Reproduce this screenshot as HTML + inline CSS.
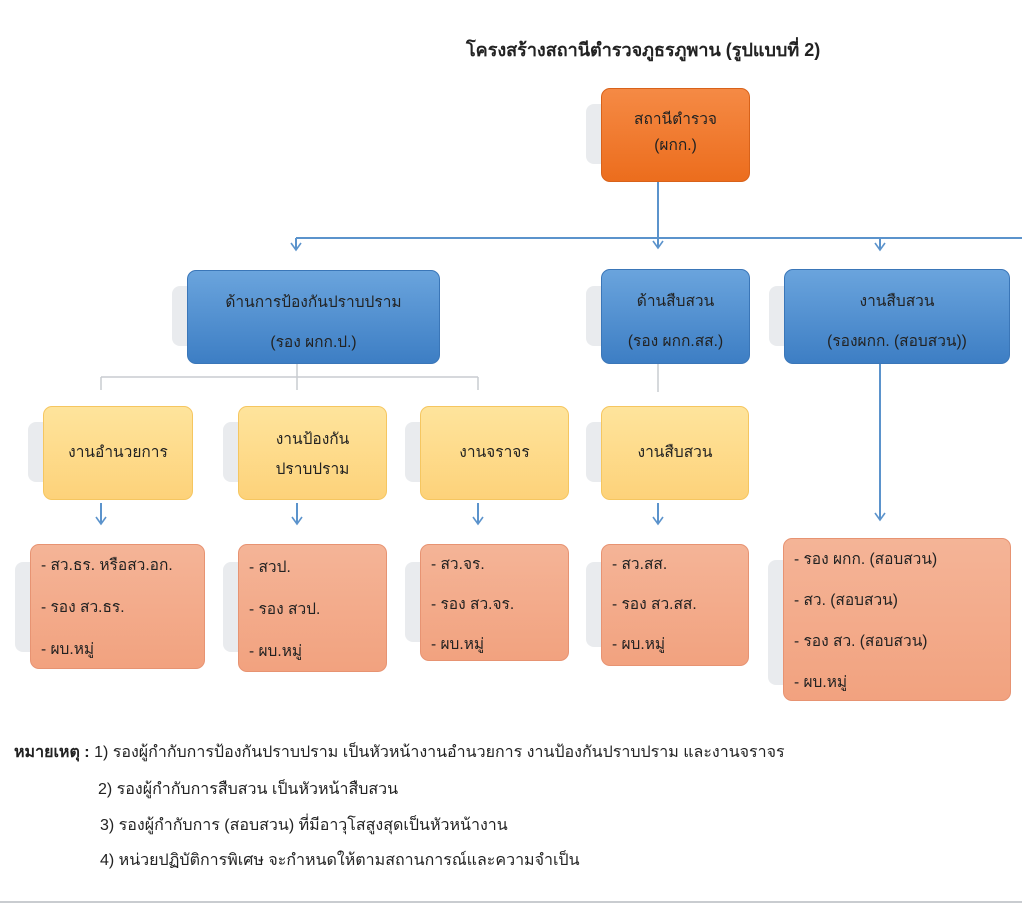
<!DOCTYPE html>
<html><head><meta charset="utf-8"><style>
body{margin:0;width:1022px;height:905px;background:#fff;position:relative;font-family:"Liberation Sans","DejaVu Sans",sans-serif;overflow:hidden}
.b{position:absolute;border-radius:9px;box-sizing:border-box;text-align:center;color:#222;font-size:15.5px}
.sh{position:absolute;background:#e9ebee;border-radius:8px}
.o{background:linear-gradient(#f58a45,#ec6d1d);border:1px solid #d8621a}
.bl{background:linear-gradient(#6aa4dd,#3d7ec4);border:1px solid #3a76b8}
.y{background:linear-gradient(#fee49c,#fdd27a);border:1px solid #f5c660}
.s{background:linear-gradient(#f4b497,#f2a27f);border:1px solid #e79372;text-align:left;padding-left:10px}
.t{position:absolute;font-size:16px;color:#222;white-space:nowrap}
</style></head><body>
<div class="t" style="left:466px;top:35px;font-weight:bold;font-size:18px">โครงสร้างสถานีตำรวจภูธรภูพาน (รูปแบบที่ 2)</div>

<svg style="position:absolute;left:0;top:0" width="1022" height="905">
<g stroke="#5b93cc" stroke-width="2" fill="none">
<line x1="658" y1="182" x2="658" y2="248"/>
<line x1="296" y1="238" x2="1022" y2="238"/>
<line x1="296" y1="238" x2="296" y2="250"/>
<line x1="880" y1="238" x2="880" y2="250"/>
<line x1="880" y1="364" x2="880" y2="520"/>
<line x1="101" y1="503" x2="101" y2="524"/>
<line x1="297" y1="503" x2="297" y2="524"/>
<line x1="478" y1="503" x2="478" y2="524"/>
<line x1="658" y1="503" x2="658" y2="524"/>
</g>
<g stroke="#5b93cc" stroke-width="1.6" fill="none">
<polyline points="291,243 296,250 301,243"/><polyline points="653,241 658,248 663,241"/><polyline points="875,243 880,250 885,243"/>
<polyline points="875,513 880,520 885,513"/>
<polyline points="96,517 101,524 106,517"/><polyline points="292,517 297,524 302,517"/><polyline points="473,517 478,524 483,517"/><polyline points="653,517 658,524 663,517"/>
</g>
<g stroke="#c9ccd0" stroke-width="1.5" fill="none">
<line x1="297" y1="364" x2="297" y2="390"/><line x1="101" y1="377" x2="478" y2="377"/>
<line x1="101" y1="377" x2="101" y2="390"/><line x1="478" y1="377" x2="478" y2="390"/>
<line x1="658" y1="364" x2="658" y2="392"/>
<line x1="0" y1="902" x2="1022" y2="902" stroke-width="2"/>
</g>
</svg>

<div class="sh" style="left:586px;top:104px;width:40px;height:60px"></div>
<div class="b o" style="left:601px;top:88px;width:149px;height:94px;padding-top:18px;line-height:26px">สถานีตำรวจ<br>(ผกก.)</div>

<div class="sh" style="left:172px;top:286px;width:40px;height:60px"></div>
<div class="b bl" style="left:187px;top:270px;width:253px;height:94px;padding-top:12px;line-height:40px">ด้านการป้องกันปราบปราม<br>(รอง ผกก.ป.)</div>
<div class="sh" style="left:586px;top:286px;width:40px;height:60px"></div>
<div class="b bl" style="left:601px;top:269px;width:149px;height:95px;padding-top:12px;line-height:40px">ด้านสืบสวน<br>(รอง ผกก.สส.)</div>
<div class="sh" style="left:769px;top:286px;width:40px;height:60px"></div>
<div class="b bl" style="left:784px;top:269px;width:226px;height:95px;padding-top:12px;line-height:40px">งานสืบสวน<br>(รองผกก. (สอบสวน))</div>

<div class="sh" style="left:28px;top:422px;width:40px;height:60px"></div>
<div class="b y" style="left:43px;top:406px;width:150px;height:94px;line-height:92px">งานอำนวยการ</div>
<div class="sh" style="left:223px;top:422px;width:40px;height:60px"></div>
<div class="b y" style="left:238px;top:406px;width:149px;height:94px;padding-top:18px;line-height:30px">งานป้องกัน<br>ปราบปราม</div>
<div class="sh" style="left:405px;top:422px;width:40px;height:60px"></div>
<div class="b y" style="left:420px;top:406px;width:149px;height:94px;line-height:92px">งานจราจร</div>
<div class="sh" style="left:586px;top:422px;width:40px;height:60px"></div>
<div class="b y" style="left:601px;top:406px;width:148px;height:94px;line-height:92px">งานสืบสวน</div>

<div class="sh" style="left:15px;top:562px;width:40px;height:90px"></div>
<div class="b s" style="left:30px;top:544px;width:175px;height:125px;line-height:42px">- สว.ธร. หรือสว.อก.<br>- รอง สว.ธร.<br>- ผบ.หมู่</div>
<div class="sh" style="left:223px;top:562px;width:40px;height:90px"></div>
<div class="b s" style="left:238px;top:544px;width:149px;height:128px;line-height:42px;padding-top:2px">- สวป.<br>- รอง สวป.<br>- ผบ.หมู่</div>
<div class="sh" style="left:405px;top:562px;width:40px;height:80px"></div>
<div class="b s" style="left:420px;top:544px;width:149px;height:117px;line-height:40px">- สว.จร.<br>- รอง สว.จร.<br>- ผบ.หมู่</div>
<div class="sh" style="left:586px;top:562px;width:40px;height:85px"></div>
<div class="b s" style="left:601px;top:544px;width:148px;height:122px;line-height:40px">- สว.สส.<br>- รอง สว.สส.<br>- ผบ.หมู่</div>
<div class="sh" style="left:768px;top:560px;width:40px;height:125px"></div>
<div class="b s" style="left:783px;top:538px;width:228px;height:163px;line-height:41px">- รอง ผกก. (สอบสวน)<br>- สว. (สอบสวน)<br>- รอง สว. (สอบสวน)<br>- ผบ.หมู่</div>

<div class="t" style="left:14px;top:740px"><b>หมายเหตุ :</b> 1) รองผู้กำกับการป้องกันปราบปราม เป็นหัวหน้างานอำนวยการ งานป้องกันปราบปราม และงานจราจร</div>
<div class="t" style="left:98px;top:777px">2) รองผู้กำกับการสืบสวน เป็นหัวหน้าสืบสวน</div>
<div class="t" style="left:100px;top:813px">3) รองผู้กำกับการ (สอบสวน) ที่มีอาวุโสสูงสุดเป็นหัวหน้างาน</div>
<div class="t" style="left:100px;top:848px">4) หน่วยปฏิบัติการพิเศษ จะกำหนดให้ตามสถานการณ์และความจำเป็น</div>
</body></html>
